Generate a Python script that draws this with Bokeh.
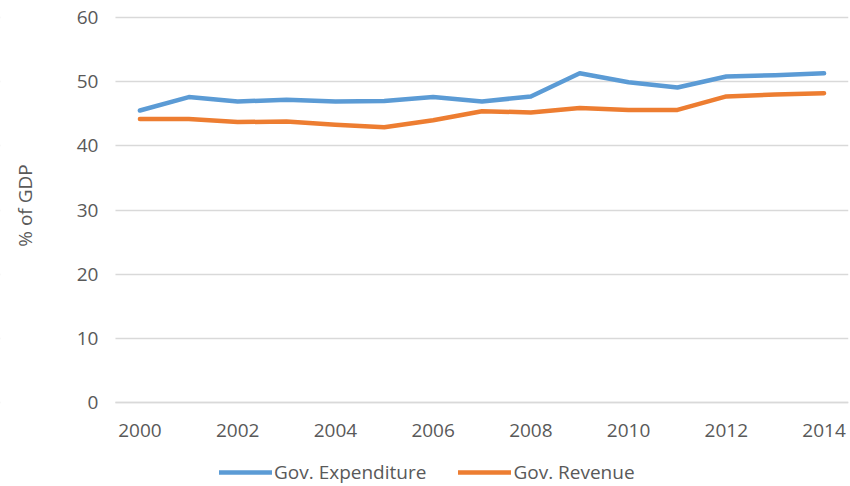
from math import pi
from bokeh.plotting import figure
from bokeh.models import Range1d, FixedTicker, Legend, LegendItem, Label, BoxAnnotation
from bokeh.embed import file_html
from bokeh.resources import INLINE

years = list(range(2000, 2015))
expenditure = [45.5, 47.6, 46.9, 47.2, 46.9, 47.0, 47.6, 46.9, 47.7, 51.3, 49.9, 49.1, 50.8, 51.0, 51.3]
revenue = [44.2, 44.2, 43.7, 43.8, 43.3, 42.9, 44.0, 45.4, 45.2, 45.9, 45.6, 45.6, 47.7, 48.0, 48.2]
x_ticks = [2000, 2002, 2004, 2006, 2008, 2010, 2012, 2014]
y_ticks = [0, 10, 20, 30, 40, 50, 60]
series_names = ["Gov. Expenditure", "Gov. Revenue"]
y_title = "% of GDP"

x_lo, x_hi = 1999.5, 2014.5   # category slots of the chart area

# The frame covers the whole canvas so that the legend, axis title and tick labels
# (drawn inside the frame) are not clipped; both axes are pinned at the chart area's edges.
p = figure(width=850, height=486, output_backend="svg", toolbar_location=None,
           x_range=Range1d(1997.147, x_hi), y_range=Range1d(-13.09, 62.649),
           min_border_left=0, min_border_right=2, min_border_top=0, min_border_bottom=0)
p.outline_line_color = None
p.background_fill_color = "white"

r1 = p.line(years, expenditure, line_color="#5B9BD5", line_width=4.5, line_join="round", line_cap="round")
r2 = p.line(years, revenue, line_color="#ED7D31", line_width=4.5, line_join="round", line_cap="round")

p.xaxis.ticker = FixedTicker(ticks=x_ticks)
p.yaxis.ticker = FixedTicker(ticks=y_ticks)
p.xaxis.fixed_location = 0
p.xaxis.bounds = (x_lo, x_hi)
p.yaxis.fixed_location = x_lo
p.yaxis.bounds = (y_ticks[0], y_ticks[-1])
p.xgrid.grid_line_color = None
p.ygrid.grid_line_color = "#d9d9d9"
p.ygrid.grid_line_width = 1.5

# hide the gridlines left of the chart area
mask = BoxAnnotation(right=x_lo, fill_color="white", fill_alpha=1.0, line_color=None, level="underlay")
p.add_layout(mask)

for ax in (p.xaxis, p.yaxis):
    ax.major_tick_line_color = None
    ax.minor_tick_line_color = None
    ax.major_tick_out = 0
    ax.major_tick_in = 0
    ax.major_label_text_color = "#595959"
    ax.major_label_text_font = "Open Sans"
    ax.major_label_text_font_size = "19px"
p.xaxis.axis_line_color = "#d9d9d9"
p.xaxis.axis_line_width = 1.5
p.yaxis.axis_line_color = None

p.xaxis.major_label_standoff = 21
p.yaxis.major_label_standoff = 17

lab = Label(x=24, y=281, x_units="screen", y_units="screen", text=y_title, angle=pi / 2,
            text_align="center", text_baseline="middle",
            text_font="Open Sans", text_font_size="19px", text_color="#595959")
p.add_layout(lab)

legend = Legend(items=[LegendItem(label=series_names[0], renderers=[r1]),
                       LegendItem(label=series_names[1], renderers=[r2])],
                orientation="horizontal", location=(219, 1),
                label_text_font="Open Sans", label_text_font_size="19px",
                label_text_color="#595959", glyph_width=53, glyph_height=20,
                label_standoff=2, spacing=32, padding=0, margin=0,
                border_line_color=None, background_fill_alpha=0)
p.add_layout(legend, "center")

open("out.html", "w").write(file_html(p, INLINE))
